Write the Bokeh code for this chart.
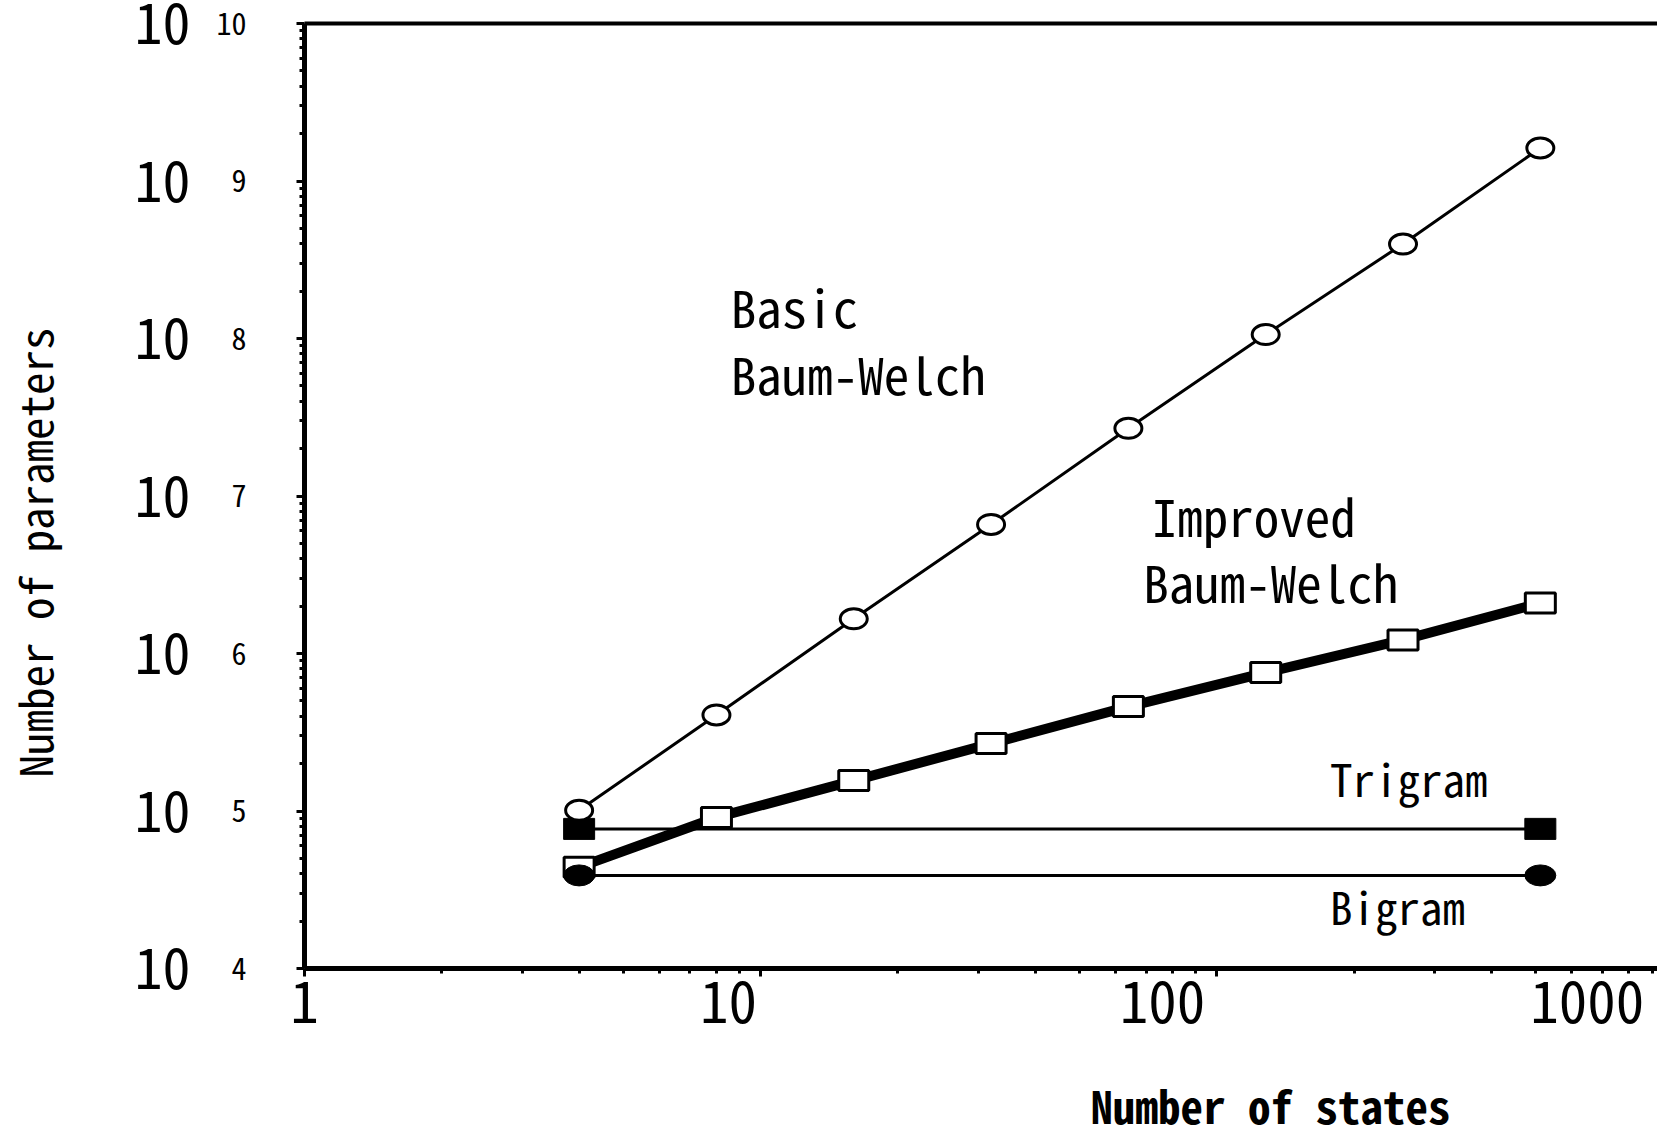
from bokeh.plotting import figure
from bokeh.models import LogAxis, FixedTicker, Label, Title, Range1d
from bokeh.embed import file_html
from bokeh.resources import INLINE

# ---- data ----
states = [4, 8, 16, 32, 64, 128, 256, 512]
basic_bw = [1.01e5, 4.07e5, 1.66e6, 6.6e6, 2.69e7, 1.06e8, 3.98e8, 1.62e9]
improved_bw = [4.4e4, 9.1e4, 1.56e5, 2.68e5, 4.6e5, 7.57e5, 1.22e6, 2.09e6]
ngram_states = [4, 512]
trigram = [7.7e4, 7.7e4]
bigram = [3.9e4, 3.9e4]

x_tick_values = [1, 10, 100]
x_tick_labels = ["1", "10", "100", "1000"]
# where the x tick labels sit (the original figure draws them a little left of their ticks)
x_label_pos = [1, 8.5, 76, 649]
y_tick_values = [1e4, 1e5, 1e6, 1e7, 1e8, 1e9, 1e10]
y_exponents = ["4", "5", "6", "7", "8", "9", "10"]

MONO = "Noto Sans Mono CJK JP"

p = figure(width=1657, height=1136, x_axis_type="log", y_axis_type="log",
           x_range=Range1d(1, 925), y_range=Range1d(1e4, 1e10),
           output_backend="svg", toolbar_location=None,
           min_border_left=304, min_border_right=0, min_border_top=23,
           min_border_bottom=168)
p.xgrid.visible = False
p.ygrid.visible = False
p.outline_line_color = None
p.background_fill_color = "white"
p.border_fill_color = "white"

x_minor = [k * 10 ** e for e in range(0, 3) for k in range(2, 10)]
y_minor = [k * 10 ** e for e in range(4, 10) for k in range(2, 10)]

# bottom axis: line and ticks
xa = p.xaxis[0]
xa.ticker = FixedTicker(ticks=x_tick_values, minor_ticks=x_minor)
xa.major_label_overrides = {v: "" for v in x_tick_values}
xa.major_label_text_font_size = "1px"
xa.major_label_standoff = 0
xa.axis_line_width = 5
xa.major_tick_out = 8
xa.major_tick_in = 0
xa.minor_tick_out = 5
xa.minor_tick_in = 0
xa.major_tick_line_width = 3
xa.minor_tick_line_width = 3

# bottom axis: tick labels (+ blank axis label used as a spacer)
xlab = LogAxis(ticker=FixedTicker(ticks=x_label_pos),
               major_label_overrides={v: s for v, s in zip(x_label_pos, x_tick_labels)},
               major_label_text_font=MONO, major_label_text_font_size="57px",
               major_label_text_color="black", major_label_standoff=4,
               major_tick_out=0, major_tick_in=0, minor_tick_out=0, minor_tick_in=0,
               axis_line_color=None, axis_label=" ", axis_label_text_font_size="10px",
               axis_label_standoff=30)
p.add_layout(xlab, "below")

# inner left axis: exponents
ya = p.yaxis[0]
ya.ticker = FixedTicker(ticks=y_tick_values, minor_ticks=y_minor)
ya.major_label_overrides = {v: s for v, s in zip(y_tick_values, y_exponents)}
ya.major_label_text_font = MONO
ya.major_label_text_font_size = "30px"
ya.major_label_text_color = "black"
ya.major_label_standoff = 50
ya.axis_line_width = 5
ya.major_tick_out = 8
ya.major_tick_in = 0
ya.minor_tick_out = 5
ya.minor_tick_in = 0
ya.major_tick_line_width = 3
ya.minor_tick_line_width = 3

# outer left axis: big "10" (+ blank axis label used as a spacer)
outer = LogAxis(ticker=FixedTicker(ticks=y_tick_values),
                major_label_overrides={v: "10" for v in y_tick_values},
                major_label_text_font=MONO, major_label_text_font_size="56px",
                major_label_text_color="black",
                major_label_standoff=23, major_tick_out=0, major_tick_in=0,
                minor_tick_out=0, minor_tick_in=0, axis_line_color=None,
                axis_label=" ", axis_label_text_font_size="10px",
                axis_label_standoff=50)
p.add_layout(outer, "left")

# y-axis title
p.add_layout(Title(text="Number of parameters", align="left", offset=191,
                   vertical_align="top",
                   text_font=MONO, text_font_size="45px", text_font_style="normal",
                   text_color="black", standoff=0), "left")

# top frame line
top = LogAxis(ticker=FixedTicker(ticks=x_tick_values),
              major_label_overrides={v: "" for v in x_tick_values},
              major_tick_out=0, major_tick_in=0, minor_tick_out=0, minor_tick_in=0,
              major_label_standoff=0, axis_line_width=4)
p.add_layout(top, "above")

# x-axis title
p.add_layout(Title(text="Number of states", align="left", offset=786,
                   text_font=MONO, text_font_size="45px", text_font_style="bold",
                   text_color="black", standoff=0), "below")

# series
p.line(states, basic_bw, line_width=3, line_color="black")
p.line(ngram_states, trigram, line_width=3, line_color="black")
p.line(ngram_states, bigram, line_width=3, line_color="black")
p.line(states, improved_bw, line_width=10, line_color="black")
p.rect(states, improved_bw, width=30, height=20, width_units="screen", height_units="screen",
       fill_color="white", line_color="black", line_width=3)
p.rect(ngram_states, trigram, width=31, height=21, width_units="screen", height_units="screen",
       fill_color="black", line_color="black", line_width=1)
p.ellipse(ngram_states, bigram, width=31, height=21, width_units="screen", height_units="screen",
          fill_color="black", line_color="black", line_width=1)
p.ellipse(states, basic_bw, width=27, height=20, width_units="screen", height_units="screen",
          fill_color="white", line_color="black", line_width=3)

# annotations
notes = [(8.6, 1.6e8, "Basic", "51px"), (8.6, 6.0e7, "Baum-Welch", "51px"),
         (72, 7.6e6, "Improved", "51px"), (69, 2.9e6, "Baum-Welch", "51px"),
         (177, 1.64e5, "Trigram", "45px"), (177, 2.52e4, "Bigram", "45px")]
for x, y, t, fs in notes:
    p.add_layout(Label(x=x, y=y, text=t, text_font=MONO, text_font_size=fs,
                       text_baseline="alphabetic", text_color="black"))

open("out.html", "w").write(file_html(p, INLINE))
